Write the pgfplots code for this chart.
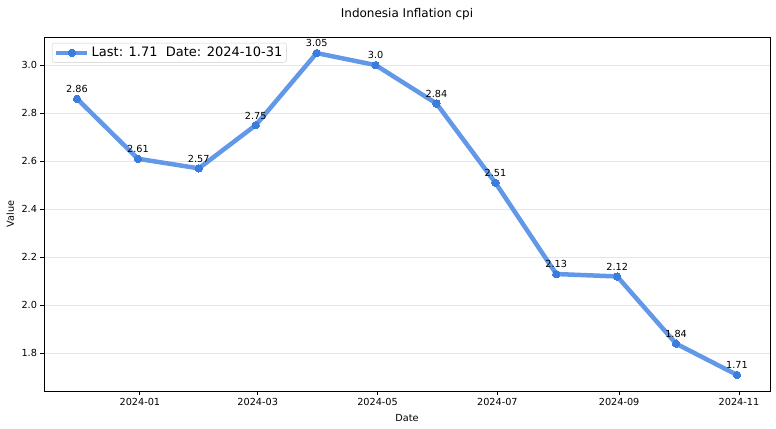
\documentclass[border=0pt]{standalone}
\usepackage{pgfplots}
\pgfplotsset{compat=1.18}
\usepackage{pgfplotstable}
\usepackage{fontspec}
\setmainfont{DejaVu Sans}
\definecolor{linec}{RGB}{98,152,232}
\definecolor{markc}{RGB}{59,125,221}
\definecolor{gridc}{RGB}{229,229,229}
\pgfplotstableread{
d v lab
-32 2.86 2.86
-1 2.61 2.61
30 2.57 2.57
59 2.75 2.75
90 3.05 3.05
120 3.00 3.0
151 2.84 2.84
181 2.51 2.51
212 2.13 2.13
243 2.12 2.12
273 1.84 1.84
304 1.71 1.71
}\datatab
\begin{document}
\begin{tikzpicture}
\path[use as bounding box] (-44bp,-38bp) rectangle (732bp,391bp);
\begin{axis}[
  at={(0,0)}, anchor=south west,
  scale only axis, width=726bp, height=354bp,
  xmin=-48.8, xmax=320.8, ymin=1.643, ymax=3.117,
  xtick={0,60,121,182,244,305},
  xticklabels={2024-01,2024-03,2024-05,2024-07,2024-09,2024-11},
  ytick={1.8,2.0,2.2,2.4,2.6,2.8,3.0},
  yticklabel style={/pgf/number format/.cd,fixed,fixed zerofill,precision=1,assume math mode=true},
  ticklabel style={font=\fontsize{9.7bp}{11bp}\selectfont},
  ymajorgrids, grid style={gridc, line width=0.8bp},
  tick align=outside, major tick length=3.5bp, tick style={black, line width=0.8bp},
  xtick pos=lower, ytick pos=left,
  axis line style={line width=0.8bp, black},
  title={Indonesia Inflation cpi},
  every axis title/.style={at={(axis description cs:0.5,1)}, anchor=base, yshift=19bp, font=\fontsize{12bp}{14bp}\selectfont},
  xlabel={Date}, ylabel={Value},
  every axis x label/.style={at={(axis description cs:0.5,0)}, anchor=base, yshift=-30.5bp, font=\fontsize{9.7bp}{11bp}\selectfont},
  every axis y label/.style={at={(axis description cs:0,0.5)}, anchor=base, xshift=-30bp, rotate=90, font=\fontsize{9.7bp}{11bp}\selectfont},
  legend style={at={(axis description cs:0,1)}, anchor=north west, xshift=8bp, yshift=-6bp,
    draw=black!20, rounded corners=2bp, font=\fontsize{13bp}{15bp}\selectfont,
    inner xsep=2bp, inner ysep=2bp},
  legend cell align=left,
  legend image code/.code={\draw[#1, mark repeat=2, mark phase=2] plot coordinates {(0bp,0bp) (15.5bp,0bp) (31bp,0bp)};},
]
\addplot[color=linec, line width=4.5bp, mark=*, mark size=3.7bp,
  mark options={fill=markc, draw=markc, line width=0pt},
  point meta=explicit symbolic,
  nodes near coords,
  every node near coord/.append style={font=\fontsize{9.7bp}{11bp}\selectfont, text=black, anchor=south, inner sep=0pt, yshift=6bp}]
  table[x=d, y=v, meta=lab] {\datatab};
\addlegendentry{Last: 1.71\ \ Date: 2024-10-31}
\end{axis}
\end{tikzpicture}
\end{document}
